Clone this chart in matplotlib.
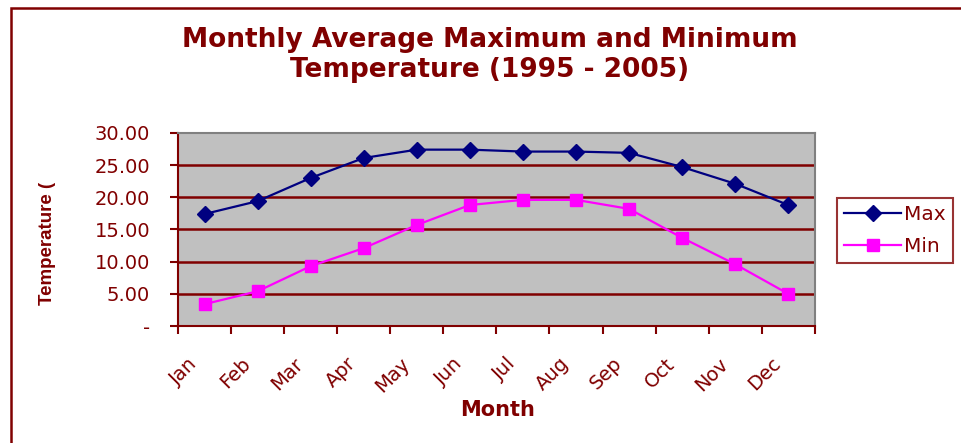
import numpy as np
import matplotlib.pyplot as plt
import matplotlib.transforms as mtransforms

months = ["Jan", "Feb", "Mar", "Apr", "May", "Jun",
          "Jul", "Aug", "Sep", "Oct", "Nov", "Dec"]
max_temp = [17.4, 19.4, 23.0, 26.1, 27.4, 27.4, 27.1, 27.1, 26.9, 24.7, 22.1, 18.8]
min_temp = [3.4, 5.4, 9.3, 12.1, 15.7, 18.8, 19.6, 19.6, 18.2, 13.7, 9.6, 5.0]
y_ticks = [0, 5, 10, 15, 20, 25, 30]
y_labels = ["-", "5.00", "10.00", "15.00", "20.00", "25.00", "30.00"]

dark_red = "#800000"
plt.rcParams['font.family'] = ['DejaVu Sans']

fig = plt.figure(figsize=(9.62, 4.43), dpi=100)
ax = fig.add_axes([0.185, 0.264, 0.662, 0.436])
ax.set_facecolor("#C0C0C0")

x = np.arange(len(months)) + 0.5
ax.plot(x, max_temp, color="#000080", marker="D", markersize=8.5, lw=1.6, label="Max", zorder=3)
ax.plot(x, min_temp, color="#FF00FF", marker="s", markersize=8, lw=1.6, label="Min", zorder=3)

ax.set_xlim(0, 12)
ax.set_ylim(0, 30)
ax.set_yticks(y_ticks)
ax.set_yticklabels(y_labels, fontsize=14, color=dark_red)
for yv in y_ticks[1:-1]:
    ax.axhline(yv, color=dark_red, lw=1.8, zorder=1)

# month labels: rotated, sitting a little left of each category centre
ax.set_xticks(x)
ax.set_xticklabels([])
ax.set_xticks(np.arange(13), minor=True)
ax.tick_params(axis="x", which="major", length=0)
ax.tick_params(axis="x", which="minor", length=6, width=1.5, color=dark_red)
ax.tick_params(axis="y", length=6, width=1.5, color=dark_red, pad=14)
lbl_trans = ax.get_xaxis_transform() + mtransforms.ScaledTranslation(
    -17 / 100, -28 / 100, fig.dpi_scale_trans)
for xi, m in zip(x, months):
    ax.text(xi, 0, m, transform=lbl_trans, rotation=45, ha="right", va="top",
            rotation_mode="anchor", fontsize=14, color=dark_red, clip_on=False)

for side in ["left", "bottom"]:
    ax.spines[side].set_color(dark_red)
    ax.spines[side].set_linewidth(1.5)
for side in ["top", "right"]:
    ax.spines[side].set_color("#808080")
    ax.spines[side].set_linewidth(1.5)

fig.text(0.509, 0.94, "Monthly Average Maximum and Minimum\nTemperature (1995 - 2005)",
         ha="center", va="top", fontsize=19, fontweight="bold", color=dark_red,
         linespacing=1.2)
fig.text(0.049, 0.45, "Temperature (", rotation=90, ha="center", va="center",
         fontsize=13.5, fontweight="bold", color=dark_red, family="Liberation Sans")
fig.text(0.517, 0.075, "Month", ha="center", va="center",
         fontsize=15, fontweight="bold", color=dark_red)

leg = fig.legend(loc="upper left", bbox_to_anchor=(0.870, 0.553), fontsize=14.5,
                 frameon=True, fancybox=False, handlelength=2.85,
                 borderpad=0.35, labelspacing=0.65, handletextpad=0.15,
                 borderaxespad=0)
leg.get_frame().set_edgecolor(dark_red)
leg.get_frame().set_linewidth(1.5)
for t in leg.get_texts():
    t.set_color(dark_red)

border = plt.Rectangle((0.011, -0.1), 1.1, 1.082, transform=fig.transFigure,
                       fill=False, edgecolor=dark_red, lw=1.8)
fig.patches.append(border)

fig.savefig("out.png", dpi=100)
